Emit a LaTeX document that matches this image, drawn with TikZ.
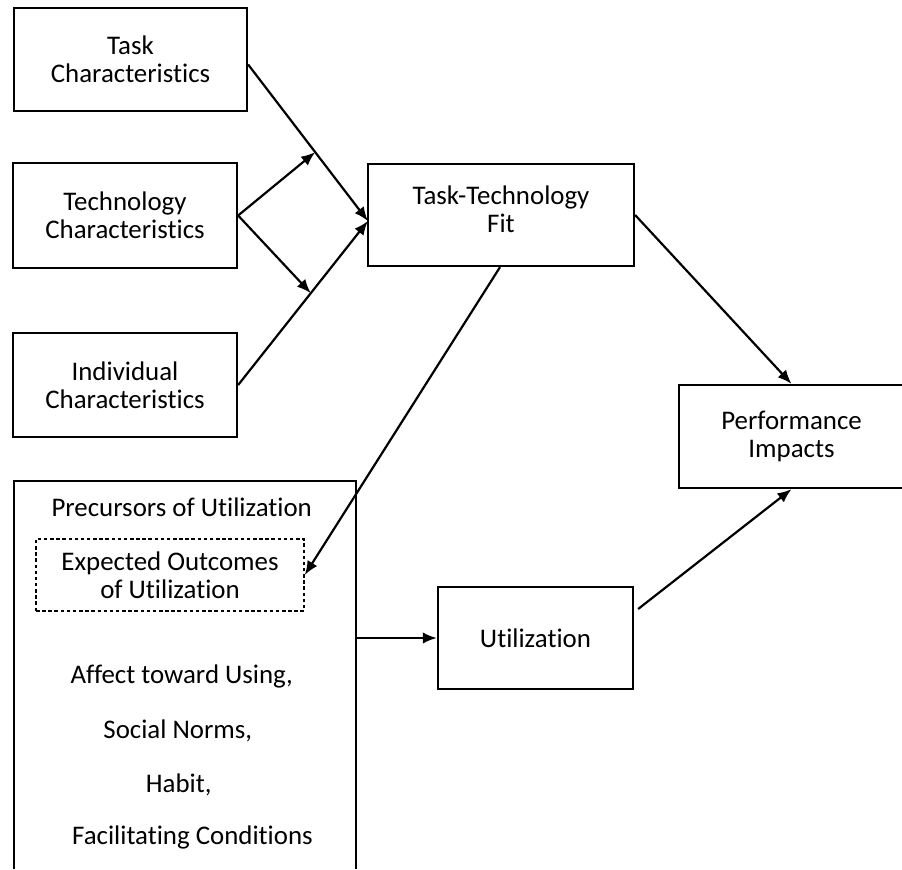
\documentclass[tikz,border=0pt]{standalone}
\usepackage{fontspec}
\setmainfont{Carlito}[Ligatures={NoCommon}]
\usetikzlibrary{arrows.meta,calc}
\definecolor{figline}{RGB}{0,0,0}
\tikzset{
  bx/.style  ={draw=figline, line width=1.3pt, align=center, inner sep=0pt, font=\fontsize{15.3}{16}\selectfont},
  bxd/.style ={draw=figline, line width=0.9pt, dash pattern=on 2pt off 1.5pt, align=center, inner sep=0pt, font=\fontsize{15.3}{16}\selectfont},
  lab/.style ={font=\fontsize{15.3}{16}\selectfont, inner sep=0pt, anchor=base},
  ptr/.style ={draw=figline, line width=1.25pt, -{Latex[length=8pt,width=6.5pt]}},
}
\begin{document}
\begin{tikzpicture}[x=0.02cm,y=-0.02cm]
  \useasboundingbox (0,0) rectangle (902,869);
  \node[bx,minimum width=4.66cm,minimum height=2.06cm] (task) at (130.5,59.5) {Task\\Characteristics};
  \node[bx,minimum width=4.48cm,minimum height=2.10cm] (tech) at (125,215.5) {Technology\\Characteristics};
  \node[bx,minimum width=4.48cm,minimum height=2.08cm] (indiv) at (125,385) {Individual\\Characteristics};
  \node[bx,minimum width=5.32cm,minimum height=2.04cm,text depth=0.22cm] (ttf) at (501,215) {Task-Technology\\Fit};
  \node[bx,minimum width=4.5cm,minimum height=2.06cm] (perf) at (791.5,436.5) {Performance\\Impacts};
  \node[bx,minimum width=3.9cm,minimum height=2.04cm] (util) at (535.5,638) {Utilization};
  \node[minimum width=6.84cm,minimum height=7.76cm,inner sep=0pt] (prec) at (185,675) {};
  \draw[draw=figline,line width=1.3pt] (prec.south west) -- (prec.north west) -- (prec.north east) -- (prec.south east);
  \node[lab] (precttl) at (181.7,516) {Precursors of Utilization};
  \node[bxd,minimum width=5.36cm,minimum height=1.44cm] (exp) at (170,575) {Expected Outcomes\\of Utilization};
  \node[lab] (affect) at (181.7,683) {Affect toward Using,};
  \node[lab] (social) at (177.8,738) {Social Norms,};
  \node[lab] (habit) at (178.7,792) {Habit,};
  \node[lab] (facil) at (192.5,844) {Facilitating Conditions};
  \coordinate (ttfin) at ($(ttf.west)+(1,6)$);
  \coordinate (taskout) at ($(task.east)+(0,5)$);
  \coordinate (j1) at ($(taskout)!0.56!(ttfin)$);
  \coordinate (j2) at ($(indiv.east)!0.56!(ttfin)$);
  \draw[ptr] (taskout) -- (ttfin);
  \draw[ptr] (indiv.east) -- (ttfin);
  \draw[ptr] (tech.east) -- (j1);
  \draw[ptr] (tech.east) -- (j2);
  \draw[ptr] ($(ttf.south)+(-1,0)$) -- (exp.east);
  \draw[ptr] (ttf.east) -- (perf.north);
  \draw[ptr] ($(util.east)+(4,-29)$) -- (perf.south);
  \draw[ptr] (prec.east |- util.west) -- (util.west);
\end{tikzpicture}
\end{document}
